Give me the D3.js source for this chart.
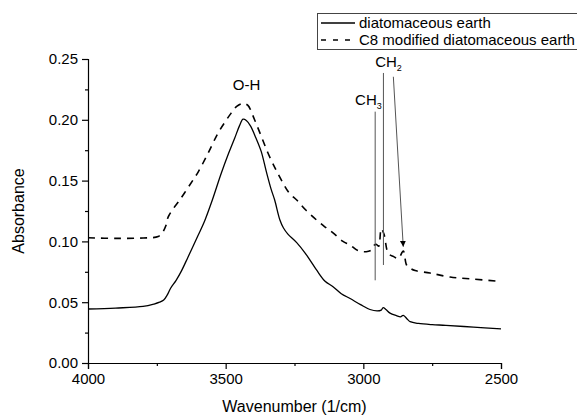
<!DOCTYPE html>
<html>
<head>
<meta charset="utf-8">
<script src="https://cdn.jsdelivr.net/npm/d3@7"></script>
<style>
  body { margin: 0; background: #fff; }
  svg { font-family: "Liberation Sans", Arial, sans-serif; }
</style>
</head>
<body>
<svg id="chart"></svg>
<script>
// series names for the legend
let seriesNames = ["diatomaceous earth", "C8 modified diatomaceous earth"];

// diatomaceous earth (solid line): wavenumber, absorbance
let rawWave = [4000, 3900, 3800, 3760, 3740, 3725, 3712, 3700, 3680, 3660, 3637, 3600, 3576, 3550,
    3516, 3490, 3467, 3450, 3437, 3425, 3410, 3390, 3371, 3353, 3335, 3322, 3303, 3290, 3274,
    3242, 3210, 3170, 3140, 3110, 3080, 3048, 3010, 2976, 2950, 2935, 2928, 2918, 2903, 2880,
    2865, 2855, 2840, 2830, 2800, 2750, 2700, 2600, 2500];
let rawAbs = [0.0444, 0.0452, 0.0465, 0.0485, 0.050, 0.0518, 0.056, 0.0615, 0.068, 0.076, 0.087,
    0.105, 0.117, 0.133, 0.156, 0.172, 0.185, 0.195, 0.2005, 0.1995, 0.195, 0.185, 0.174, 0.158,
    0.143, 0.134, 0.1176, 0.111, 0.106, 0.099, 0.090, 0.0765, 0.0675, 0.0627, 0.057, 0.053, 0.048,
    0.044, 0.0428, 0.0435, 0.0455, 0.044, 0.041, 0.039, 0.038, 0.0392, 0.036, 0.034, 0.0325,
    0.0315, 0.031, 0.0295, 0.028];

// C8 modified diatomaceous earth (dashed line)
let modWave = [4000, 3900, 3800, 3745, 3730, 3717, 3709, 3690, 3670, 3649, 3620, 3600, 3564, 3528,
    3500, 3480, 3460, 3437, 3420, 3395, 3370, 3346, 3320, 3299, 3270, 3242, 3210, 3170, 3140,
    3110, 3074, 3048, 3020, 2990, 2970, 2960, 2952, 2944, 2935, 2925, 2909, 2890, 2873, 2855,
    2843, 2830, 2812, 2758, 2685, 2600, 2500];
let modAbs = [0.1030, 0.1025, 0.1028, 0.104, 0.107, 0.113, 0.12, 0.127, 0.133, 0.140, 0.150, 0.157,
    0.1725, 0.189, 0.199, 0.2055, 0.211, 0.2135, 0.212, 0.200, 0.186, 0.1725, 0.160, 0.151, 0.140,
    0.134, 0.126, 0.1176, 0.112, 0.107, 0.100, 0.097, 0.0925, 0.0915, 0.093, 0.097, 0.0975, 0.096,
    0.1105, 0.106, 0.090, 0.0875, 0.086, 0.092, 0.0806, 0.078, 0.076, 0.074, 0.0707, 0.069, 0.067];

// axis ticks
let xTicks = [4000, 3500, 3000, 2500];
let xMinor = [3750, 3250, 2750];
let yTicks = [0.00, 0.05, 0.10, 0.15, 0.20, 0.25];
let yMinor = [0.025, 0.075, 0.125, 0.175, 0.225];

// peak labels [text, subscript, wavenumber, absorbance]
let peakLabels = [["O-H", "", 3424, 0.2245], ["CH", "3", 3030, 0.212], ["CH", "2", 2957, 0.2434]];
// annotation lines [wave1, abs1, wave2, abs2]
let peakLines = [[2957, 0.2067, 2957, 0.068], [2927, 0.2385, 2927, 0.0806]];
let peakArrow = [2891, 0.2354, 2855, 0.0956];

let width = 577, height = 417;
let svg = d3.select("#chart").attr("width", width).attr("height", height);

let x = d3.scaleLinear().domain([4000, 2500]).range([88, 501]);
let y = d3.scaleLinear().domain([0, 0.25]).range([363, 59]);

// axes
let xAxis = svg.append("g").attr("transform", "translate(0," + y(0) + ")")
    .call(d3.axisBottom(x).tickValues(xTicks).tickFormat(d3.format("d")).tickSize(6).tickPadding(4));
let xAxisMinor = svg.append("g").attr("transform", "translate(0," + y(0) + ")")
    .call(d3.axisBottom(x).tickValues(xMinor).tickFormat("").tickSize(3));
let yAxis = svg.append("g").attr("transform", "translate(" + x(4000) + ",0)")
    .call(d3.axisLeft(y).tickValues(yTicks).tickFormat(d3.format(".2f")).tickSize(6).tickPadding(4));
let yAxisMinor = svg.append("g").attr("transform", "translate(" + x(4000) + ",0)")
    .call(d3.axisLeft(y).tickValues(yMinor).tickFormat("").tickSize(3));

[xAxis, xAxisMinor, yAxis, yAxisMinor].forEach(a => {
    a.select(".domain").attr("stroke", "#000").attr("stroke-width", 1.2);
    a.selectAll(".tick line").attr("stroke", "#000").attr("stroke-width", 1.2);
    a.selectAll("text").attr("font-size", 15).attr("fill", "#000")
        .attr("font-family", "'Liberation Sans', Arial, sans-serif");
});
xAxisMinor.select(".domain").remove();
yAxisMinor.select(".domain").remove();

// axis titles
svg.append("text")
    .attr("x", (x(4000) + x(2500)) / 2).attr("y", 412)
    .attr("text-anchor", "middle").attr("font-size", 16)
    .text("Wavenumber (1/cm)");
svg.append("text")
    .attr("transform", "translate(24," + (y(0) + y(0.25)) / 2 + ") rotate(-90)")
    .attr("text-anchor", "middle").attr("font-size", 16)
    .text("Absorbance");

// curves (smooth through the read points)
let line = d3.line()
    .x(d => x(d[0]))
    .y(d => y(d[1]))
    .curve(d3.curveCatmullRom.alpha(0.5));

let rawData = rawWave.map((w, i) => [w, rawAbs[i]]);
let modData = modWave.map((w, i) => [w, modAbs[i]]);

svg.append("path").datum(rawData)
    .attr("fill", "none").attr("stroke", "#000").attr("stroke-width", 1.3)
    .attr("d", line);
svg.append("path").datum(modData)
    .attr("fill", "none").attr("stroke", "#000").attr("stroke-width", 1.6)
    .attr("stroke-dasharray", "7,6")
    .attr("d", line);

// annotation lines
svg.selectAll(".peakline").data(peakLines).enter().append("line")
    .attr("class", "peakline")
    .attr("x1", d => x(d[0])).attr("y1", d => y(d[1]))
    .attr("x2", d => x(d[2])).attr("y2", d => y(d[3]))
    .attr("stroke", "#555").attr("stroke-width", 1);

svg.append("defs").append("marker")
    .attr("id", "arrow").attr("viewBox", "0 0 10 10")
    .attr("refX", 10).attr("refY", 5)
    .attr("markerWidth", 6).attr("markerHeight", 8)
    .attr("markerUnits", "userSpaceOnUse")
    .attr("orient", "auto")
  .append("path").attr("d", "M0,0 L10,5 L0,10 Z").attr("fill", "#000");

svg.append("line")
    .attr("x1", x(peakArrow[0])).attr("y1", y(peakArrow[1]))
    .attr("x2", x(peakArrow[2])).attr("y2", y(peakArrow[3]))
    .attr("stroke", "#555").attr("stroke-width", 1)
    .attr("marker-end", "url(#arrow)");

// peak labels with subscripts
let labels = svg.selectAll(".peaklabel").data(peakLabels).enter().append("text")
    .attr("class", "peaklabel")
    .attr("x", d => x(d[2])).attr("y", d => y(d[3]))
    .attr("text-anchor", d => d[1] ? "start" : "middle")
    .attr("font-size", 15);
labels.append("tspan").text(d => d[0]);
labels.append("tspan").attr("font-size", 9).attr("dy", 4).text(d => d[1]);

// legend
let legend = svg.append("g");
legend.append("rect")
    .attr("x", 317.5).attr("y", 13.5).attr("width", 270).attr("height", 36)
    .attr("fill", "#fff").attr("stroke", "#444").attr("stroke-width", 1);
let rows = legend.selectAll(".row").data(seriesNames).enter().append("g")
    .attr("transform", (d, i) => "translate(0," + (23 + i * 17) + ")");
rows.append("line")
    .attr("x1", 321).attr("x2", 355).attr("y1", 0).attr("y2", 0)
    .attr("stroke", "#000").attr("stroke-width", 1.3)
    .attr("stroke-dasharray", (d, i) => i ? "5,7" : null);
rows.append("text")
    .attr("x", 359).attr("y", 5)
    .attr("font-size", 15)
    .text(d => d);
</script>
</body>
</html>
